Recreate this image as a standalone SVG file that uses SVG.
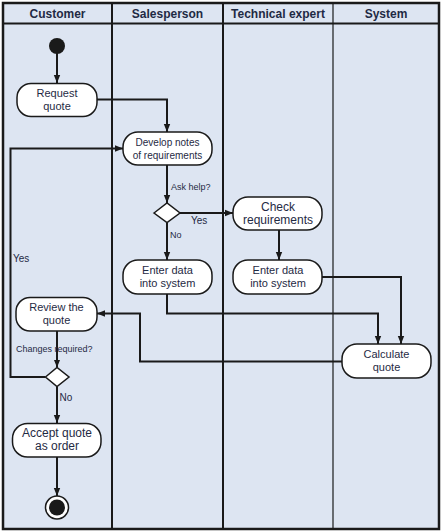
<svg xmlns="http://www.w3.org/2000/svg" width="443" height="531" viewBox="0 0 443 531">
<defs>
<marker id="ah" viewBox="0 0 10 10" refX="10" refY="5" markerWidth="8" markerHeight="8" markerUnits="userSpaceOnUse" orient="auto">
<path d="M0,1 L10,5 L0,9 z" fill="#1a1a1a"/>
</marker>
<style>
.lane{fill:#dde5f2;stroke:none}
.frame{fill:none;stroke:#1a1a1a;stroke-width:2.5}
.div{stroke:#1a1a1a;stroke-width:2}
.div1{stroke:#1a1a1a;stroke-width:1.2}
.hdr{font-family:"Liberation Sans",Arial,sans-serif;font-size:12px;font-weight:bold;fill:#1f2a44;text-anchor:middle}
.node{fill:#ffffff;stroke:#1a1a1a;stroke-width:1.5}
.t{font-family:"Liberation Sans",Arial,sans-serif;font-size:11px;fill:#1f2a44;text-anchor:middle}
.ts{font-family:"Liberation Sans",Arial,sans-serif;font-size:10px;fill:#1f2a44;text-anchor:middle}
.tl{font-family:"Liberation Sans",Arial,sans-serif;font-size:12px;fill:#1f2a44;text-anchor:middle}
.lbl{font-family:"Liberation Sans",Arial,sans-serif;font-size:9px;fill:#1f2a44}
.lbl2{font-family:"Liberation Sans",Arial,sans-serif;font-size:10px;fill:#1f2a44}
.c{fill:none;stroke:#1a1a1a;stroke-width:2}
</style>
</defs>
<rect class="lane" x="3" y="3" width="436" height="526"/>
<g id="lanes">
<line class="div" x1="3" y1="23.5" x2="439" y2="23.5"/>
<line class="div" x1="112" y1="3" x2="112" y2="529"/>
<line class="div" x1="223" y1="3" x2="223" y2="529"/>
<line class="div1" x1="333" y1="3" x2="333" y2="529"/>
<rect class="frame" x="3" y="3" width="436" height="526"/>
<text class="hdr" x="57.5" y="18">Customer</text>
<text class="hdr" x="167.5" y="18">Salesperson</text>
<text class="hdr" x="278" y="18">Technical expert</text>
<text class="hdr" x="386" y="18">System</text>
</g>
<g id="connectors">
<line class="c" x1="57" y1="53" x2="57" y2="83" marker-end="url(#ah)"/>
<polyline class="c" points="97,99.5 167,99.5 167,132" marker-end="url(#ah)"/>
<line class="c" x1="167" y1="165" x2="167" y2="203" marker-end="url(#ah)"/>
<line class="c" x1="180" y1="213" x2="233" y2="213" marker-end="url(#ah)"/>
<line class="c" x1="167" y1="222.5" x2="167" y2="260" marker-end="url(#ah)"/>
<line class="c" x1="279" y1="230" x2="279" y2="260" marker-end="url(#ah)"/>
<polyline class="c" points="322,277 401,277 401,344" marker-end="url(#ah)"/>
<polyline class="c" points="167,294 167,313.5 378,313.5 378,344" marker-end="url(#ah)"/>
<polyline class="c" points="342,361.5 140,361.5 140,313.5 97,313.5" marker-end="url(#ah)"/>
<line class="c" x1="57" y1="331" x2="57" y2="367.5" marker-end="url(#ah)"/>
<polyline class="c" points="45.5,377 10.5,377 10.5,148.5 123,148.5" marker-end="url(#ah)"/>
<line class="c" x1="57" y1="386.5" x2="57" y2="423" marker-end="url(#ah)"/>
<line class="c" x1="57" y1="457" x2="57" y2="496" marker-end="url(#ah)"/>
<text class="lbl" x="171" y="190">Ask help?</text>
<text class="lbl2" x="191" y="224">Yes</text>
<text class="lbl" x="170" y="237.5">No</text>
<text class="lbl2" x="13" y="261.5">Yes</text>
<text class="lbl" x="16" y="351.5">Changes required?</text>
<text class="lbl2" x="59.5" y="401">No</text>
</g>
<g id="start"><circle cx="57" cy="46" r="8" fill="#1a1a1a"/></g>
<g id="request-quote">
<rect class="node" x="17" y="83.5" width="80" height="33" rx="14"/>
<text class="t" x="57" y="97">Request</text>
<text class="t" x="57" y="110">quote</text>
</g>
<g id="develop-notes">
<rect class="node" x="123" y="132" width="89" height="33" rx="15"/>
<text class="ts" x="167.5" y="145.5">Develop notes</text>
<text class="ts" x="167.5" y="158.5">of requirements</text>
</g>
<g id="ask-help-decision">
<polygon class="node" points="154,213 167,203 180,213 167,222.5"/>
</g>
<g id="check-requirements">
<rect class="node" x="233" y="197" width="89" height="33" rx="15"/>
<text class="tl" x="278" y="210.5">Check</text>
<text class="tl" x="278" y="223.5">requirements</text>
</g>
<g id="enter-data-sales">
<rect class="node" x="123" y="260" width="89" height="34" rx="15"/>
<text class="t" x="167.5" y="274">Enter data</text>
<text class="t" x="167.5" y="287">into system</text>
</g>
<g id="enter-data-tech">
<rect class="node" x="233" y="260" width="89" height="34" rx="15"/>
<text class="t" x="278" y="274">Enter data</text>
<text class="t" x="278" y="287">into system</text>
</g>
<g id="calculate-quote">
<rect class="node" x="342" y="344" width="89" height="34" rx="15"/>
<text class="t" x="386.5" y="358">Calculate</text>
<text class="t" x="386.5" y="371">quote</text>
</g>
<g id="review-quote">
<rect class="node" x="16" y="297.5" width="81" height="33.5" rx="14"/>
<text class="t" x="56.5" y="311">Review the</text>
<text class="t" x="56.5" y="324">quote</text>
</g>
<g id="changes-decision">
<polygon class="node" points="45.5,377 57,367.5 69,377 57,386.5"/>
</g>
<g id="accept-quote">
<rect class="node" x="12.5" y="423.5" width="88.5" height="33.5" rx="15"/>
<text class="tl" x="57" y="437">Accept quote</text>
<text class="tl" x="57" y="450">as order</text>
</g>
<g id="end">
<circle cx="57" cy="507.5" r="11.5" fill="#ffffff" stroke="#1a1a1a" stroke-width="1.5"/>
<circle cx="57" cy="507.5" r="8" fill="#1a1a1a"/>
</g>
</svg>
